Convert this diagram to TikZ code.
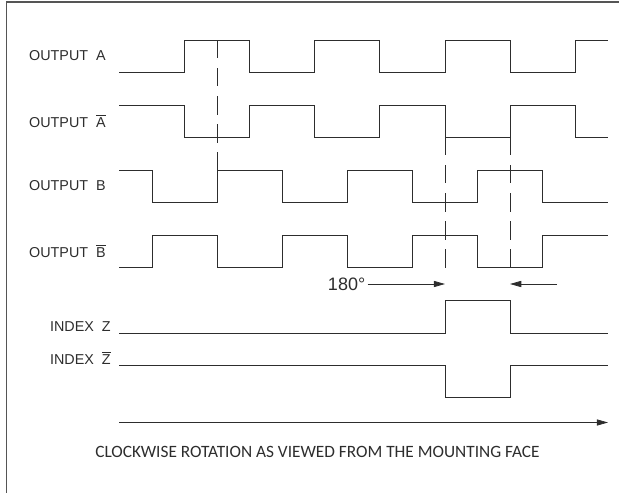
\documentclass[tikz,border=0pt]{standalone}
\usepackage{fontspec}
\setmainfont{Liberation Sans}
\newfontfamily\capfont{Carlito}
\definecolor{inkgray}{RGB}{45,45,45}
\definecolor{framegray}{RGB}{85,85,85}
\usetikzlibrary{arrows.meta,positioning}
\newcommand{\barltr}[1]{\ensuremath{\overline{\mbox{#1}}}}

\begin{document}
\begin{tikzpicture}[x=0.025cm, y=-0.025cm]
                \tikzstyle{wave} = [draw=inkgray, line width=0.55pt]
                \tikzstyle{guide} = [draw=inkgray, line width=0.55pt, dash pattern=on 13pt off 7pt]
                \tikzstyle{line} = [draw=inkgray, line width=0.55pt, -{Triangle[length=8pt,width=4.4pt]}]
                \tikzstyle{sig} = [font=\fontsize{10.2}{11}\selectfont, text=inkgray, inner sep=0pt]

                \useasboundingbox (0,0) rectangle (619,493);
                \draw [framegray, line width=1.3pt] (6.5,493) -- (6.5,2) -- (619,2);

                % signal names
                \node [sig, anchor=east] (outA) at (106,56) {OUTPUT\ \ A};
                \node [sig, anchor=east] (outAn) at (106,121) {OUTPUT\ \ \barltr{A}};
                \node [sig, anchor=east] (outB) at (106,186) {OUTPUT\ \ B};
                \node [sig, anchor=east] (outBn) at (106,251) {OUTPUT\ \ \barltr{B}};
                \node [sig, anchor=base east] (idxZ) at (111,331) {INDEX\ \ Z};
                \node [sig, anchor=base east] (idxZn) at (111,364) {INDEX\ \ \barltr{Z}};

                % waveforms
                \draw [wave] (119,72) -| (184.5,40) -| (249.5,72) -| (314.7,40) -| (379.8,72) -| (445,40) -| (510,72) -| (575,40) -- (608,40);
                \draw [wave] (119,105) -| (184.5,137) -| (249.5,105) -| (314.7,137) -| (379.8,105) -| (445,137) -| (510,105) -| (575,137) -- (608,137);
                \draw [wave] (119,170) -| (152,202) -| (217,170) -| (282,202) -| (347,170) -| (412.5,202) -| (477.7,170) -| (542.7,202) -- (608,202);
                \draw [wave] (119,267) -| (152,235) -| (217,267) -| (282,235) -| (347,267) -| (412.5,235) -| (477.7,267) -| (542.7,235) -- (608,235);
                \draw [wave] (119,333) -| (445,300.5) -| (510,333) -- (608,333);
                \draw [wave] (119,365.5) -| (445,397.5) -| (510,365.5) -- (608,365.5);

                % phase guides
                \draw [guide] (217,40) -- (217,170);
                \draw [guide] (445,137) -- (445,276);
                \draw [guide] (510,137) -- (510,276);

                % 180 degree window
                \node [anchor=east, inner sep=0pt, text=inkgray, font=\fontsize{12.8}{13}\selectfont] (deg) at (365.5,284) {180\textdegree};
                \coordinate (zrise) at (445,284);
                \coordinate (zfallR) at (557,284);
                \coordinate (zfall) at (510,284);
                \path [line] (deg.east) ++(2,0) -- (zrise);
                \path [line] (zfallR) -- (zfall);

                % rotation
                \coordinate (rotS) at (119,422.5);
                \coordinate (rotE) at (608,422.5);
                \path [line] (rotS) -- (rotE);
                \node [text=inkgray, inner sep=0pt, font=\capfont\fontsize{12.3}{13}\selectfont] (caption) at (317.5,452) {CLOCKWISE ROTATION AS VIEWED FROM THE MOUNTING FACE};
            \end{tikzpicture}
\end{document}
